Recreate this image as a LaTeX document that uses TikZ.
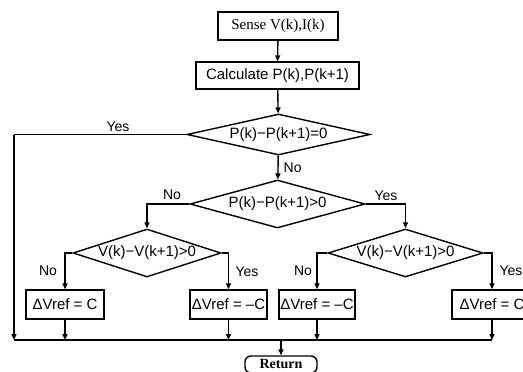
\documentclass[tikz,border=0pt]{standalone}
\usepackage{fontspec}
\setmainfont{Liberation Serif}
\setsansfont{Liberation Sans}
\usetikzlibrary{shapes.geometric,arrows.meta}
\begin{document}
\begin{tikzpicture}[x=1pt,y=-1pt,
  line width=1.4pt,
  sansfont/.style={font=\sffamily\fontsize{15}{15}\selectfont},
  box/.style={draw, rectangle, inner sep=0pt, sansfont},
  dec/.style={draw, diamond, inner sep=0pt, sansfont},
  lbl/.style={inner sep=0pt, font=\sffamily\fontsize{14}{14}\selectfont},
  arr/.style={-{Triangle[length=6pt,width=5pt]}},
]
\useasboundingbox (0,0) rectangle (523,372);

\node[box, font=\rmfamily\fontsize{15}{15}\selectfont, minimum width=120pt, minimum height=28pt] (sense) at (278,26) {Sense V(k),I(k)};
\node[box, minimum width=163pt, minimum height=27pt] (calc) at (277.5,75.5) {Calculate P(k),P(k+1)};
\node[dec, shape aspect=4.46, minimum width=183pt, minimum height=41pt] (d1) at (278.5,134.5) {P(k)−P(k+1)=0};
\node[dec, shape aspect=3.65, minimum width=175pt, minimum height=48pt] (d2) at (277.5,204) {P(k)−P(k+1)>0};
\node[dec, shape aspect=3.08, minimum width=148pt, minimum height=48pt] (d3) at (147,253) {V(k)−V(k+1)>0};
\node[dec, shape aspect=3.23, minimum width=155pt, minimum height=48pt] (d4) at (405.5,253) {V(k)−V(k+1)>0};

\node[box, minimum width=78pt, minimum height=29pt] (b1) at (65,304.5) {ΔVref = C};
\node[box, minimum width=77pt, minimum height=29pt] (b2) at (228.5,304.5) {ΔVref = –C};
\node[box, minimum width=76pt, minimum height=29pt] (b3) at (317,304.5) {ΔVref = –C};
\node[box, minimum width=80pt, minimum height=29pt] (b4) at (492,304.5) {ΔVref = C};

\node[box, rounded corners=6pt, font=\rmfamily\bfseries\fontsize{14}{14}\selectfont, minimum width=72pt, minimum height=17pt] (ret) at (281,364.5) {Return};

\coordinate (yesL) at (14,134.5);
\coordinate (busL) at (14,340);
\coordinate (busR) at (492,340);
\coordinate (busM) at (281,340);

% connectors
\draw[arr] (sense) -- (calc);
\draw[arr] (calc) -- (d1);
\draw[arr] (d1) -- (d2);
\draw[arr] (d2.west) -| (d3.north);
\draw[arr] (d2.east) -| (d4.north);
\draw[arr] (d3.west) -| (b1.north);
\draw[arr] (d3.east) -| (b2.north);
\draw[arr] (d4.west) -| (b3.north);
\draw[arr] (d4.east) -| (b4.north);
\draw (d1.west) -- (yesL);
\draw[arr] (yesL) -- (busL);
\draw (busL) -- (busR);
\draw[arr] (b1.south) -- (b1.south |- busL);
\draw[arr] (b2.south) -- (b2.south |- busL);
\draw[arr] (b3.south) -- (b3.south |- busL);
\draw[arr] (b4.south) -- (busR);
\draw[arr] (busM) -- (ret.north);

% labels
\node[lbl] (lyes1) at (118,127) {Yes};
\node[lbl, anchor=west] (lno1) at (283,168) {No};
\node[lbl] (lno2) at (172,195) {No};
\node[lbl] (lyes2) at (386,196) {Yes};
\node[lbl] (lno3) at (48,271) {No};
\node[lbl] (lyes3) at (247,272) {Yes};
\node[lbl] (lno4) at (303,271) {No};
\node[lbl] (lyes4) at (511,271) {Yes};
\end{tikzpicture}
\end{document}
